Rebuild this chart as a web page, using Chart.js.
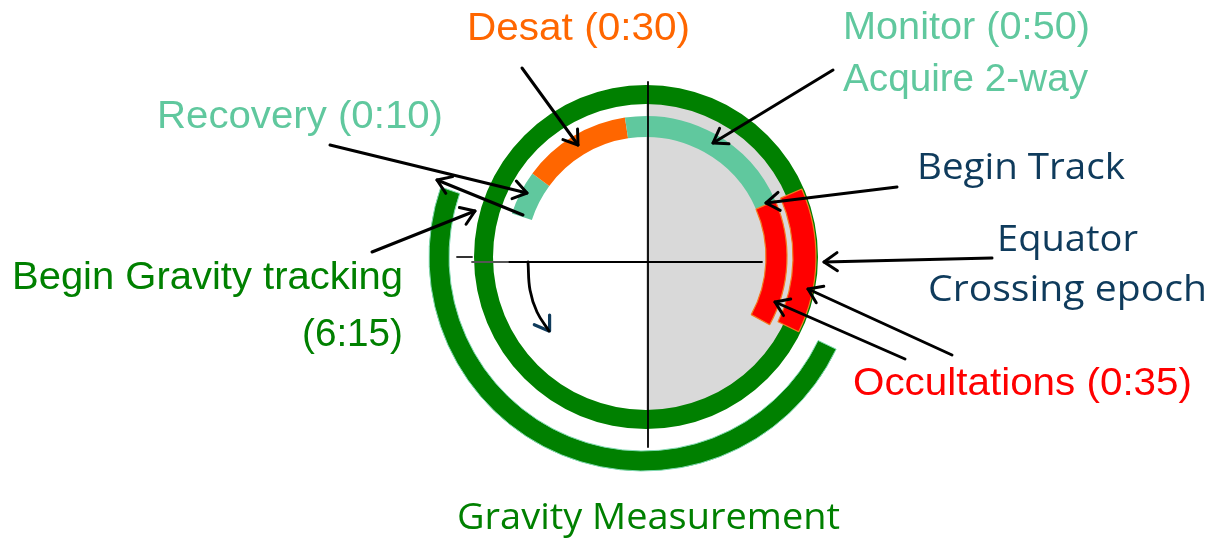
<!DOCTYPE html>
<html><head><meta charset="utf-8">
<script src="https://cdn.jsdelivr.net/npm/chart.js@4.4.1/dist/chart.umd.min.js"></script>
<style>
html,body{margin:0;padding:0;background:#fff;width:1216px;height:542px;overflow:hidden}
#wrap{position:relative;width:1216px;height:542px}
#wrap canvas{position:absolute}
</style></head><body><div id="wrap"></div>
<script>
// ---------- data (angles in degrees, clockwise from 12 o'clock) ----------
const activityLabels = ['Recovery (0:10)', 'Desat (0:30)', 'Monitor (0:50)', 'Occultations (0:35)'];
const activityStartDeg = -72;
const activitySpanDeg = [18.3, 45.1, 75.1, 52.2];
const occultOuterStartDeg = 66.4;
const occultOuterSpanDeg = 49.7;
const gravityLabel = 'Gravity tracking (6:15)';
const gravityStartDeg = 115.5;
const gravitySpanDeg = 173.6;
const orbitRingSpanDeg = [360];
const dayHalfStartDeg = 0;
const dayHalfSpanDeg = [180];

// ---------- colours ----------
const GREEN = '#008000', TEAL = '#60C89E', ORANGE = '#FF6600', RED = '#FF0000',
      GRAY = '#D9D9D9', NAVY = '#0F3B5C';

const wrap = document.getElementById('wrap');

function ring(cx, cy, rOut, rIn, rotation, values, colors, bColors, bWidths) {
  const size = 2 * rOut + 20;
  const cv = document.createElement('canvas');
  cv.width = size; cv.height = size;
  cv.style.left = (cx - size / 2) + 'px';
  cv.style.top = (cy - size / 2) + 'px';
  wrap.appendChild(cv);
  const sum = values.reduce((a, b) => a + b, 0);
  const data = values.slice();
  const bg = colors.slice(), bc = bColors.slice(), bw = bWidths.slice();
  if (sum < 360) { data.push(360 - sum); bg.push('rgba(0,0,0,0)'); bc.push('rgba(0,0,0,0)'); bw.push(0); }
  new Chart(cv, {
    type: 'doughnut',
    data: { datasets: [{ data, backgroundColor: bg, borderColor: bc, borderWidth: bw, hoverOffset: 0 }] },
    options: {
      responsive: false, animation: false, events: [],
      radius: rOut, cutout: (rIn / rOut * 100) + '%',
      rotation: rotation, circumference: 360,
      layout: { padding: 0 },
      plugins: { legend: { display: false }, tooltip: { enabled: false } }
    }
  });
}

const CX = 646, CY = 257;
// gray (sunlit) half disc
ring(CX, CY, 154, 0, dayHalfStartDeg, dayHalfSpanDeg, [GRAY], [GRAY], [0]);
// full orbit ring
ring(CX, CY, 172, 153, 0, orbitRingSpanDeg, [GREEN], [GREEN], [0]);
// gravity measurement arc
ring(643, CY, 214, 194, gravityStartDeg, [gravitySpanDeg], [GREEN], ['#7FD8B0'], [1]);
// activity arcs
ring(CX, CY, 141, 120, activityStartDeg, activitySpanDeg,
     [TEAL, ORANGE, TEAL, RED], [TEAL, ORANGE, TEAL, '#F47A20'], [0, 0, 0, 1.2]);
// outer occultation arc
ring(CX, CY, 170, 147, occultOuterStartDeg, [occultOuterSpanDeg], [RED], ['#F47A20'], [1.2]);

// ---------- annotation layer ----------
const axisLines = [
  { pts: [[648, 82], [648, 447]], color: '#000', w: 1.8 },
  { pts: [[457, 257], [472, 257]], color: '#333', w: 1.8 },
  { pts: [[472, 262], [508, 262]], color: '#555', w: 1.8 },
  { pts: [[508, 262], [762, 262]], color: '#000', w: 1.8 }
];
const arrowTails = [[522, 68], [833, 70], [330, 145], [523, 215], [372, 252], [897, 187], [992, 258], [952, 355], [905, 359]];
const arrowTips  = [[578, 145], [713, 143], [527, 193], [437, 180], [475, 211], [766, 203], [824, 262], [808, 289], [775, 302]];
const curvePts = [[528, 262], [530, 290], [537, 312], [549, 331]];

const ARIAL = "'Liberation Sans', Arial, sans-serif";
const SEGOE = "'Open Sans', 'Noto Sans', sans-serif";
const labels = [
  { t: 'Desat (0:30)', x: 467, y: 40, w: 223, c: ORANGE, f: ARIAL, s: 38 },
  { t: 'Monitor (0:50)', x: 843, y: 39, w: 247, c: TEAL, f: ARIAL, s: 38 },
  { t: 'Acquire 2-way', x: 843, y: 91, w: 245, c: TEAL, f: ARIAL, s: 38 },
  { t: 'Recovery (0:10)', x: 157, y: 128, w: 286, c: TEAL, f: ARIAL, s: 38 },
  { t: 'Begin Gravity tracking', x: 12, y: 289, w: 391, c: GREEN, f: ARIAL, s: 38 },
  { t: '(6:15)', x: 302, y: 346, w: 101, c: GREEN, f: ARIAL, s: 38 },
  { t: 'Begin Track', x: 917, y: 179, w: 208, c: NAVY, f: SEGOE, s: 36 },
  { t: 'Equator', x: 997, y: 251, w: 141, c: NAVY, f: SEGOE, s: 36 },
  { t: 'Crossing epoch', x: 928, y: 301, w: 279, c: NAVY, f: SEGOE, s: 36 },
  { t: 'Occultations (0:35)', x: 853, y: 395, w: 339, c: RED, f: ARIAL, s: 38 },
  { t: 'Gravity Measurement', x: 457, y: 529, w: 383, c: GREEN, f: SEGOE, s: 36 }
];

function head(tail, tip, len, ang) {
  const a = Math.atan2(tip[1] - tail[1], tip[0] - tail[0]);
  const l = [tip[0] - len * Math.cos(a - ang), tip[1] - len * Math.sin(a - ang)];
  const r = [tip[0] - len * Math.cos(a + ang), tip[1] - len * Math.sin(a + ang)];
  return [l, tip, r];
}
const toXY = p => ({ x: p[0], y: p[1] });
const lineDs = (pts, color, w, tension) => ({
  data: pts.map(toXY), showLine: true, borderColor: color, backgroundColor: color,
  borderWidth: w, pointRadius: 0, tension: tension || 0, fill: false,
  borderCapStyle: 'round', borderJoinStyle: 'round'
});

const datasets = [];
axisLines.forEach(l => datasets.push(lineDs(l.pts, l.color, l.w)));
arrowTails.forEach((t, i) => {
  datasets.push(lineDs([t, arrowTips[i]], '#000', 3));
  datasets.push(lineDs(head(t, arrowTips[i], 16, 0.6), '#000', 3));
});
datasets.push(lineDs(curvePts, '#000', 2.8, 0.4));
datasets.push(lineDs(head(curvePts[2], curvePts[3], 16, 0.6), NAVY, 3.2));

const textPlugin = {
  id: 'texts',
  afterDatasetsDraw(chart) {
    const ctx = chart.ctx, xs = chart.scales.x, ys = chart.scales.y;
    labels.forEach(L => {
      ctx.save();
      ctx.font = L.s + 'px ' + L.f;
      ctx.fillStyle = L.c;
      ctx.textBaseline = 'alphabetic';
      const m = ctx.measureText(L.t).width;
      ctx.translate(xs.getPixelForValue(L.x), ys.getPixelForValue(L.y));
      ctx.scale(L.w / m, 1);
      ctx.fillText(L.t, 0, 0);
      ctx.restore();
    });
  }
};

const ov = document.createElement('canvas');
ov.width = 1216; ov.height = 542; ov.style.left = '0px'; ov.style.top = '0px';
wrap.appendChild(ov);
new Chart(ov, {
  type: 'scatter',
  data: { datasets },
  options: {
    responsive: false, animation: false, events: [],
    layout: { padding: 0 },
    scales: {
      x: { type: 'linear', min: 0, max: 1216, display: false },
      y: { type: 'linear', min: 0, max: 542, reverse: true, display: false }
    },
    plugins: { legend: { display: false }, tooltip: { enabled: false } }
  },
  plugins: [textPlugin]
});
</script></body></html>
